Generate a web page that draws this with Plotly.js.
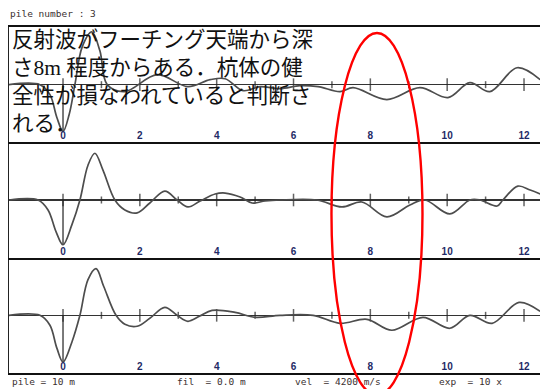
<!DOCTYPE html>
<html>
<head>
<meta charset="utf-8">
<script src="https://cdn.plot.ly/plotly-3.0.1.min.js"></script>
<style>html,body{margin:0;padding:0;background:#fff;}</style>
</head>
<body>
<div id="chart" style="width:540px;height:389px;"></div>
<script>
// ---- data (depth in m, amplitude in arbitrary units) ----
const wave1X = [-1.41,-0.6,-0.34,-0.16,0,0.16,0.31,0.5,0.75,0.96,1.15,1.61,2.45,3.25,3.83,4.22,4.69,5.13,5.65,6.17,6.64,7.21,7.55,8.43,9.29,10.02,10.59,11.11,11.82,12.42];
const wave1Y = [0,0,-10,-33,-47,-30,0,38,53,34,0,-7,10,-2,5,6,-6,-2,-4,-1,-2,-7,-3,-15,-3,-13,2,-7,17,5];

const wave2X = [-1.41,-0.65,-0.39,-0.18,0,0.23,0.44,0.65,0.83,1.04,1.35,1.61,1.93,2.26,2.65,2.97,3.25,3.57,3.96,4.22,4.61,4.92,5.26,5.65,6.61,7.26,7.78,8.43,9.03,9.42,10.07,10.59,10.85,11.30,11.45,11.84,12.16,12.42];
const wave2Y = [0,0,-10,-32,-45,-25,0,35,47,30,0,-10,-13,-3,9,0,-7,-1,6,7,3,-3,-1,0,0,-7,-2,-17,-5,0,-14,0,0,-6,0,14,10,6];

const wave3X = [-1.41,-0.6,-0.34,-0.16,0,0.23,0.44,0.65,0.86,1.06,1.38,1.61,1.93,2.26,2.65,2.97,3.25,3.55,3.88,4.48,5.0,5.65,6.51,7.21,7.91,8.56,9.37,10.07,10.59,11.17,11.87,12.42];
const wave3Y = [0,0,-10,-33,-47,-27,0,36,47,29,0,-9,-11,-3,8,0,-6,-1,5,3,-2,0,0,-8,-4,-15,-2,-13,0,-8,13,4];

const depthTicks = [0,1,2,3,4,5,6,7,8,9,10,11,12];
const depthLabels = [0,2,4,6,8,10,12];
const depthLabelText = ['0','2','4','6','8','10','12'];

const headerText = 'pile number : 3';
const footerTexts = ['pile = 10 m', 'fil\u00a0\u00a0= 0.0 m', 'vel\u00a0\u00a0= 4200 m/s', 'exp\u00a0\u00a0= 10 x'];
const noteText = '反射波がフーチング天端から深<br>さ8m 程度からある．杭体の健<br>全性が損なわれていると判断さ<br>れる．';

// ---- build ----
const waves = [[wave3X, wave3Y, 'y'], [wave2X, wave2Y, 'y2'], [wave1X, wave1Y, 'y3']];
const xNames = {y:'x', y2:'x2', y3:'x3'};
const traces = [];
waves.forEach(([wx, wy, ya]) => {
  const xa = xNames[ya];
  const minIdx = wy.indexOf(Math.min(...wy));
  traces.push({x:[wx[minIdx], wx[minIdx]], y:[0, wy[minIdx]], xaxis:xa, yaxis:ya, mode:'lines',
    line:{color:'#222', width:1.2}, hoverinfo:'skip'});
  traces.push({x:depthTicks, y:depthTicks.map(()=>0), xaxis:xa, yaxis:ya, mode:'markers',
    marker:{symbol:'line-ns', size:depthTicks.map(t=>t%2===0?9:5), line:{color:'#222', width:1.5}}, hoverinfo:'skip'});
  traces.push({x:wx, y:wy, xaxis:xa, yaxis:ya, mode:'lines',
    line:{color:'#4d4d4d', width:1.7, shape:'spline', smoothing:1}, hoverinfo:'skip'});
});

const xBase = {range:[-1.406, 12.416], showgrid:false, zeroline:false, showline:true, linecolor:'#111', linewidth:2,
  tickvals:depthLabels, ticktext:depthLabelText, ticks:'', ticklabelposition:'inside',
  tickfont:{family:'Liberation Sans, Arial, sans-serif', size:10, color:'#1f2a66', weight:'bold'}, fixedrange:true};
const yBase = {range:[-58, 58], showgrid:false, showticklabels:false, ticks:'', showline:true, linecolor:'#222', linewidth:1.2,
  zeroline:true, zerolinecolor:'#333', zerolinewidth:1.6, fixedrange:true};

const ann = [];
ann.push({text:headerText, xref:'paper', yref:'paper', x:-0.002, y:1.0376, xanchor:'left', yanchor:'middle', showarrow:false,
  font:{family:'DejaVu Sans Mono, monospace', size:9.5, color:'#3a3030'}});
const footerX = [0.0019, 0.3126, 0.5348, 0.806];
footerTexts.forEach((t,i)=>ann.push({text:t, xref:'paper', yref:'paper', x:footerX[i], y:-0.026, xanchor:'left', yanchor:'middle',
  showarrow:false, font:{family:'DejaVu Sans Mono, monospace', size:9.5, color:'#3a3030'}}));
ann.push({text:noteText, xref:'paper', yref:'paper', x:0.004, y:1, xanchor:'left', yanchor:'top', align:'left', showarrow:false,
  borderpad:0, font:{family:'Liberation Serif, Noto Sans CJK JP, serif', size:21.5, color:'#111'}});

const layout = {
  width:540, height:389, margin:{l:9, r:0, t:27, b:16},
  paper_bgcolor:'#fff', plot_bgcolor:'#fff', showlegend:false, hovermode:false,
  xaxis:Object.assign({}, xBase, {anchor:'y'}),
  xaxis2:Object.assign({}, xBase, {anchor:'y2'}),
  xaxis3:Object.assign({}, xBase, {anchor:'y3', mirror:true}),
  yaxis:Object.assign({}, yBase, {domain:[0, 1/3], anchor:'x'}),
  yaxis2:Object.assign({}, yBase, {domain:[1/3, 2/3], anchor:'x2'}),
  yaxis3:Object.assign({}, yBase, {domain:[2/3, 1], anchor:'x3'}),
  annotations:ann,
  shapes:[{type:'circle', xref:'paper', yref:'paper', x0:0.6073, x1:0.7787, y0:-0.0636, y1:0.9827,
    line:{color:'#ff0000', width:2.4}, layer:'above'}]
};

Plotly.newPlot('chart', traces, layout, {displayModeBar:false, staticPlot:true});
</script>
</body>
</html>
